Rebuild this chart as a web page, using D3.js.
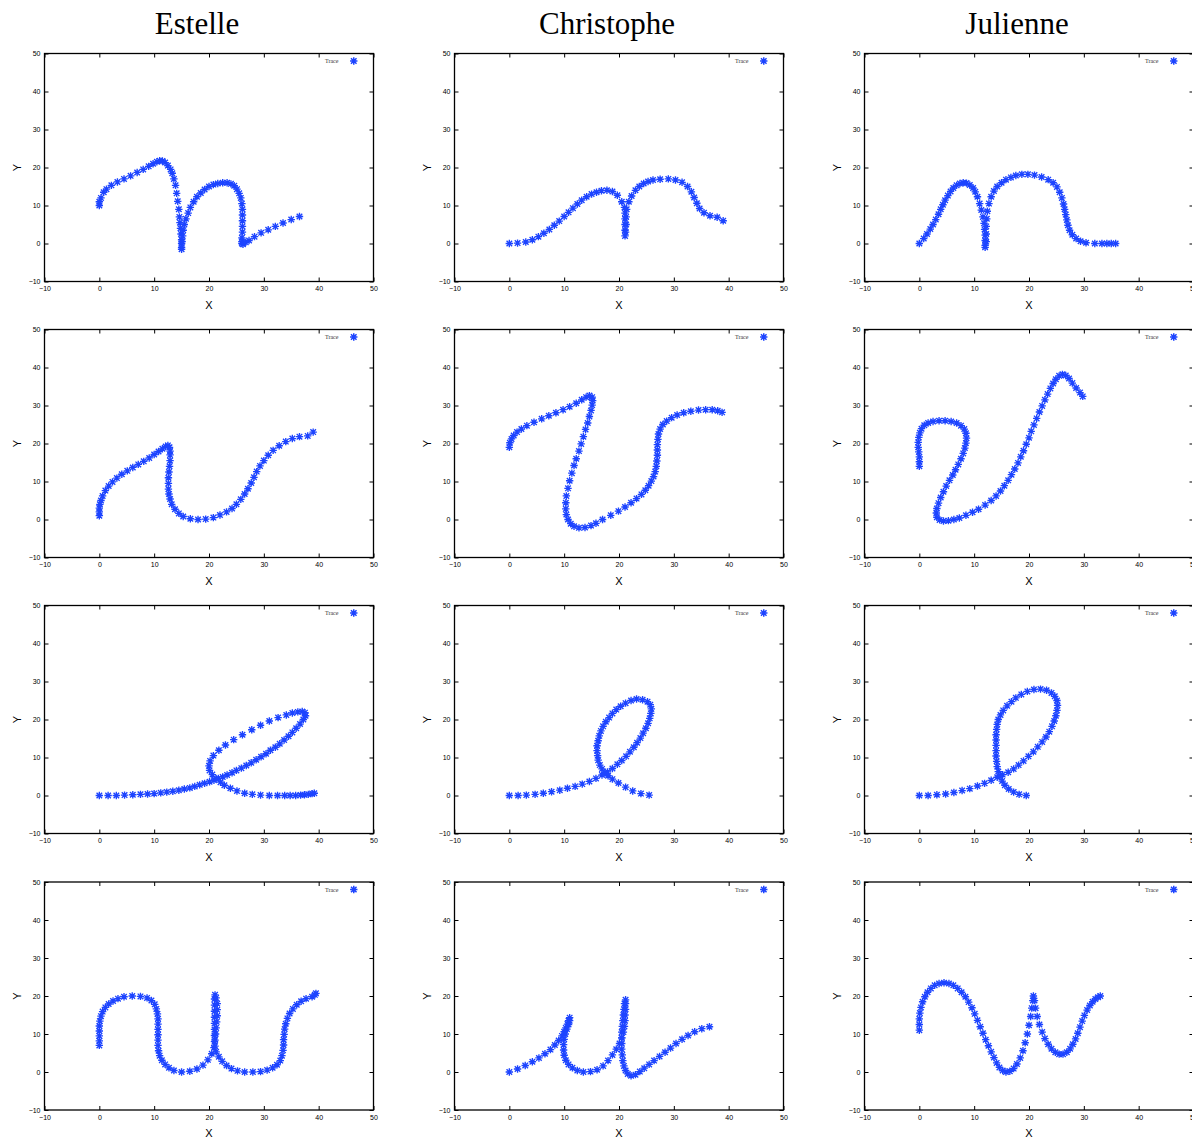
<!DOCTYPE html>
<html>
<head>
<meta charset="utf-8">
<script src="https://cdn.jsdelivr.net/npm/d3@7"></script>
<style>
  html, body { margin: 0; padding: 0; background: #fff; }
  svg { display: block; }
</style>
</head>
<body>
<svg id="chart" width="1192" height="1137"></svg>
<script>
// ---------- DATA ----------
const writers = ["Estelle", "Christophe", "Julienne"];
const letters = ["m", "v", "e", "w"];
const xTicks = [-10, 0, 10, 20, 30, 40, 50];
const yTicks = [-10, 0, 10, 20, 30, 40, 50];
const legendLabel = "Trace";

const estelle_m = [[0,10],[0,11],[0.3,12],[0.8,13.5],[1.3,14.3],[2.2,15.3],[3.3,16.2],[4.5,17],[5.7,17.8],[6.9,18.7],[8,19.5],[9,20.3],[9.8,21],[10.5,21.5],[11,21.8],[11.5,21.7],[12,21.3],[12.5,20.5],[13,19.5],[13.3,18.5],[13.6,17],[13.9,15.3],[14.1,13.2],[14.3,11.1],[14.5,9],[14.6,7],[14.7,5.5],[14.8,4],[14.9,2.5],[15,1],[15,0],[15,-1],[15,-1.5],[15.1,0.5],[15.2,2],[15.3,3.5],[15.5,5],[15.8,6.5],[16.2,8],[16.6,9.5],[17.2,11],[17.8,12.3],[18.5,13.3],[19.2,14.2],[20,15],[20.8,15.5],[21.6,15.8],[22.5,16],[23.3,16],[24,15.7],[24.6,15.2],[25.1,14.3],[25.5,13.2],[25.8,12],[26,10.5],[26.1,9],[26.1,7.5],[26.1,6],[26.1,4.5],[26.1,3],[26,1.5],[26,0.5],[26,0],[26.2,-0.2],[26.7,0.3],[27.3,0.8],[28.3,1.8],[29.5,2.8],[30.8,3.6],[32.1,4.5],[33.5,5.4],[35,6.3],[36.5,7.1]];
const christophe_m = [[0,0],[1.5,0.1],[3,0.4],[4.2,1],[5.3,1.8],[6.3,2.7],[7.3,3.7],[8.2,4.8],[9.1,5.9],[10,7.1],[10.8,8.2],[11.6,9.3],[12.4,10.4],[13.2,11.4],[14.1,12.3],[15,13],[15.9,13.5],[16.8,13.9],[17.8,14],[18.8,13.7],[19.7,12.7],[20.5,11],[21,9.5],[21.1,8],[21.1,6.5],[21.1,5],[21.1,3.5],[21.1,2],[21.2,3],[21.3,5],[21.3,7],[21.4,9],[21.8,11],[22.3,12.5],[23,14],[23.7,15],[24.5,15.8],[25.3,16.3],[26.2,16.7],[27.5,16.9],[29,17],[30.3,16.7],[31.5,16.1],[32.5,15],[33.2,13.6],[33.7,12.1],[34.2,10.6],[34.7,9.2],[35.5,8.1],[36.6,7.3],[37.9,6.9],[39,6]];
const julienne_m = [[0,0],[0.8,1.3],[1.4,2.5],[2,3.8],[2.5,5],[3,6.3],[3.5,7.7],[3.9,9],[4.3,10.2],[4.7,11.4],[5.2,12.6],[5.7,13.7],[6.2,14.6],[6.8,15.3],[7.4,15.8],[8,16],[8.6,15.9],[9.2,15.4],[9.8,14.6],[10.2,13.6],[10.6,12.3],[11,10.5],[11.3,8.8],[11.6,7],[11.8,5.3],[11.9,3.7],[12,2.2],[12,0.8],[12,-0.5],[12,-1],[12.2,0.5],[12.2,2.5],[12.2,4.5],[12.3,6.5],[12.4,8.5],[12.7,10.5],[13.1,12.3],[13.6,13.8],[14.2,15],[15,16],[15.8,16.8],[16.7,17.4],[17.6,17.9],[18.7,18.2],[19.8,18.2],[21,18],[22.3,17.5],[23.5,16.8],[24.4,16],[25.1,14.9],[25.6,13.5],[26,12],[26.3,10.4],[26.5,9],[26.7,7.6],[26.9,6.2],[27.1,4.8],[27.4,3.5],[27.9,2.3],[28.6,1.3],[29.4,0.6],[30.4,0.2],[32,0],[33.3,0],[34.2,0],[35,0],[35.8,0]];

const estelle_v = [[0,1],[0,2],[0,3],[0.1,4],[0.3,5],[0.6,6.2],[1.1,7.6],[1.7,8.8],[2.4,9.9],[3.2,10.9],[4.1,11.9],[5.1,12.8],[6.1,13.7],[7.1,14.5],[8.1,15.3],[9.1,16.2],[10,17.1],[10.8,17.9],[11.5,18.6],[12.1,19.2],[12.5,19.5],[12.8,19],[12.9,18],[12.9,17],[12.9,15.5],[12.8,14],[12.7,12.5],[12.6,11],[12.6,9.5],[12.6,8],[12.7,6.7],[12.9,5.4],[13.2,4],[13.8,2.7],[14.5,1.6],[15.3,0.8],[16.6,0.2],[18,0],[19.4,0.1],[20.8,0.5],[22,1.2],[23.2,2],[24.2,2.9],[25,4],[25.8,5.3],[26.5,6.7],[27.1,8.1],[27.7,9.6],[28.2,11.1],[28.7,12.6],[29.3,14.1],[30,15.5],[30.8,16.9],[31.7,18.2],[32.8,19.4],[34,20.5],[35.2,21.3],[36.5,21.8],[38,22],[39,23]];
const christophe_v = [[0,19],[0.1,20.2],[0.4,21.2],[0.8,22.1],[1.4,23],[2.2,23.8],[3.2,24.7],[4.5,25.6],[5.9,26.5],[7.2,27.3],[8.5,28.1],[9.8,28.9],[11,29.7],[12.2,30.6],[13.2,31.5],[14,32.2],[14.6,32.6],[15.1,32.2],[15.2,31.3],[15.1,30.1],[14.9,28.7],[14.6,27.1],[14.3,25.4],[13.9,23.7],[13.5,21.8],[13.1,19.9],[12.7,18],[12.2,16],[11.8,14.2],[11.4,12.2],[11,10.2],[10.7,8.2],[10.4,6.2],[10.3,4.4],[10.3,2.8],[10.4,1.3],[10.7,0],[11.2,-1.1],[11.8,-1.8],[12.7,-2.2],[13.8,-2.1],[14.9,-1.6],[15.8,-1],[17,0],[18.5,1.1],[19.9,2.2],[21.1,3.3],[22.2,4.4],[23.2,5.5],[24.1,6.6],[24.8,7.7],[25.4,8.9],[25.9,10.1],[26.3,11.3],[26.6,12.6],[26.8,14],[26.9,15.4],[27,16.9],[27,18.3],[27,19.7],[27.1,21.1],[27.2,22.5],[27.5,23.8],[28,25],[28.7,25.9],[29.6,26.8],[30.6,27.5],[31.8,28.1],[33.1,28.5],[34.5,28.8],[35.8,28.9],[37,28.9],[38,28.6],[38.8,28.2]];
const julienne_v = [[0,14],[0,15.2],[0,16.5],[-0.1,17.8],[-0.2,19],[-0.2,20.3],[-0.1,21.6],[0.1,22.8],[0.4,23.9],[0.9,24.8],[1.6,25.4],[2.5,25.8],[3.6,26],[4.7,26],[5.8,25.8],[6.8,25.4],[7.6,24.7],[8.2,23.8],[8.5,22.7],[8.6,21.4],[8.5,20.1],[8.3,18.8],[8,17.4],[7.6,16],[7.1,14.5],[6.6,13.1],[6.1,11.7],[5.5,10.3],[4.9,8.8],[4.4,7.3],[3.9,5.8],[3.5,4.3],[3.2,2.9],[3.1,1.7],[3.2,0.6],[3.7,-0.1],[4.4,-0.4],[5.3,-0.3],[6.3,0],[7.3,0.4],[8.5,1.1],[9.7,1.9],[10.8,2.7],[12,3.8],[13.1,5],[14,6.2],[14.8,7.5],[15.5,8.9],[16.2,10.3],[16.8,11.8],[17.4,13.3],[18,14.9],[18.5,16.5],[19,18.1],[19.5,19.8],[20,21.5],[20.4,23.2],[20.9,24.9],[21.4,26.6],[21.9,28.3],[22.4,29.9],[22.9,31.5],[23.4,33],[23.9,34.5],[24.4,35.8],[24.9,36.9],[25.5,37.8],[26.1,38.2],[26.7,37.9],[27.3,37.1],[27.9,35.9],[28.6,34.6],[29.3,33.4],[29.8,32.4]];

const estelle_e = [[0,0],[1.6,0],[3.1,0],[4.6,0.1],[6.1,0.2],[7.5,0.3],[8.8,0.4],[10,0.5],[11.2,0.7],[12.3,0.9],[13.4,1.1],[14.5,1.4],[15.5,1.7],[16.5,2],[17.4,2.4],[18.3,2.8],[19.2,3.2],[20.1,3.6],[20.9,4],[21.7,4.5],[22.5,4.9],[23.3,5.4],[24.2,6],[25,6.6],[25.9,7.2],[26.8,7.9],[27.7,8.6],[28.6,9.4],[29.5,10.2],[30.4,11],[31.2,11.9],[32.1,12.7],[32.9,13.6],[33.7,14.6],[34.5,15.6],[35.2,16.6],[35.9,17.7],[36.6,18.8],[37.2,20],[37.6,21],[37.5,21.8],[37,22.1],[36.2,22],[35.2,21.7],[34.1,21.2],[32.6,20.5],[31,19.6],[29.4,18.5],[27.8,17.3],[26.1,16],[24.5,14.7],[23,13.3],[21.8,11.9],[20.8,10.5],[20.2,9.1],[20,7.8],[20.1,6.6],[20.6,5.5],[21.3,4.5],[22.1,3.5],[22.8,2.7],[23.9,1.9],[25.1,1.2],[26.5,0.6],[27.9,0.3],[29.4,0.1],[31,0],[32.5,0],[33.8,0],[34.8,0],[35.8,0],[36.7,0.1],[37.4,0.2],[38.1,0.3],[38.8,0.5],[39.2,0.6]];
const christophe_e = [[0,0],[1.6,0],[3.1,0.1],[4.7,0.3],[6.2,0.6],[7.7,1],[9.2,1.4],[10.6,1.9],[12,2.4],[13.3,3],[14.6,3.7],[15.8,4.5],[16.9,5.4],[17.9,6.2],[18.8,7.1],[19.7,8.2],[20.5,9.2],[21.3,10.3],[22,11.5],[22.7,12.7],[23.3,13.9],[23.9,15.1],[24.4,16.4],[24.9,17.7],[25.3,19],[25.6,20.3],[25.8,21.6],[25.9,22.8],[25.7,23.9],[25.2,24.7],[24.3,25.2],[23.2,25.4],[22.2,25],[21.2,24.3],[20.3,23.5],[19.5,22.6],[18.8,21.6],[18.2,20.5],[17.6,19.4],[17.1,18.2],[16.7,17],[16.4,15.7],[16.2,14.4],[16,13.1],[16,11.8],[16.1,10.5],[16.2,9.3],[16.5,8],[16.9,7],[17.4,6],[18,5.2],[18.8,4.3],[19.9,3.3],[21.2,2.2],[22.5,1.2],[24,0.5],[25.5,0.1]];
const julienne_e = [[0,0],[1.6,0],[3.2,0.2],[4.8,0.4],[6.3,0.8],[7.8,1.3],[9.2,1.8],[10.6,2.5],[11.9,3.2],[13.1,4],[14.2,4.8],[15.2,5.5],[16.2,6.1],[17.2,7],[18.1,8],[19,9.1],[19.9,10.3],[20.8,11.5],[21.6,12.8],[22.4,14.1],[23.1,15.4],[23.7,16.8],[24.2,18.2],[24.6,19.6],[24.9,21],[25.1,22.4],[25.2,23.7],[25.1,25],[24.7,26.1],[24.1,27],[23.2,27.7],[22.1,28],[20.9,27.9],[19.7,27.4],[18.6,26.6],[17.6,25.7],[16.8,24.7],[16,23.6],[15.3,22.4],[14.8,21.2],[14.4,20],[14.2,18.7],[14.1,17.4],[14,16],[14,14.6],[14,13.2],[14,11.8],[14,10.4],[14.1,9],[14.2,7.6],[14.4,6.3],[14.7,5],[15.1,3.8],[15.6,2.7],[16.3,1.7],[17.2,0.9],[18.2,0.3],[19.5,0]];

const estelle_w = [[0,7],[0,8.2],[0,9.5],[0,10.8],[0,12.1],[0.1,13.4],[0.3,14.7],[0.6,15.9],[1.1,17],[1.7,17.9],[2.5,18.7],[3.4,19.3],[4.5,19.8],[6,20],[7.5,19.9],[8.7,19.5],[9.5,18.8],[10.1,17.8],[10.4,16.6],[10.6,15.3],[10.7,14],[10.7,12.6],[10.7,11.2],[10.7,9.8],[10.7,8.4],[10.7,7],[10.8,5.6],[11,4.3],[11.4,3.1],[12,2],[12.7,1.1],[13.6,0.4],[15,0],[16.5,0.2],[17.8,0.8],[18.9,1.8],[19.8,3.2],[20.5,4.8],[20.9,6.4],[21,8],[21,9.6],[21,11.2],[21,12.8],[21,14.4],[21,16],[21,17.6],[21,19.2],[21.1,20.3],[21.3,19.5],[21.5,18],[21.5,16.4],[21.5,14.8],[21.4,13.2],[21.3,11.6],[21.2,10],[21.1,8.4],[21.1,6.8],[21.3,5.3],[21.8,4],[22.4,2.8],[23.2,1.7],[24.1,0.9],[25.2,0.3],[26.5,0],[28,0],[29.4,0.1],[30.6,0.5],[31.6,1.1],[32.4,1.9],[33,3],[33.3,4.3],[33.5,5.7],[33.6,7.1],[33.6,8.5],[33.7,9.9],[33.8,11.3],[34,12.7],[34.3,14.1],[34.7,15.4],[35.3,16.6],[36,17.7],[36.8,18.6],[37.7,19.3],[38.8,19.8],[39.3,20.3],[39.5,20.7]];
const christophe_w = [[0,0],[1.5,0.8],[2.9,1.7],[4.2,2.7],[5.4,3.7],[6.5,4.8],[7.5,5.9],[8.3,7.1],[9,8.3],[9.6,9.5],[10,10.6],[10.3,11.6],[10.6,12.6],[10.8,13.5],[11,14.3],[11,13.5],[10.8,12.5],[10.5,11.3],[10.2,10],[10,8.6],[9.9,7.2],[9.9,5.8],[10,4.4],[10.3,3.1],[10.8,2],[11.5,1.1],[12.4,0.4],[13.5,0],[14.8,0.1],[16,0.6],[17.1,1.6],[18,3],[18.8,4.5],[19.5,6],[20.1,7.5],[20.5,9],[20.8,10.5],[21,12],[21.1,13.5],[21.1,15],[21.2,16.5],[21.2,18],[21.2,19],[21,18],[20.9,16.5],[20.8,15],[20.7,13.5],[20.6,12],[20.5,10.5],[20.5,9],[20.5,7.5],[20.5,6],[20.6,4.5],[20.7,3],[20.9,1.6],[21.2,0.4],[21.6,-0.5],[22.2,-1],[23,-0.7],[23.8,0.1],[24.6,1],[25.5,2],[26.4,3],[27.4,4.1],[28.4,5.2],[29.4,6.3],[30.4,7.5],[31.5,8.6],[32.6,9.6],[33.8,10.6],[35.1,11.4],[36.5,11.9]];
const julienne_w = [[0,11],[0,12.5],[0,14],[0.1,15.5],[0.3,17],[0.6,18.5],[1,19.8],[1.5,21],[2.1,22],[2.8,22.8],[3.6,23.3],[4.5,23.5],[5.4,23.3],[6.2,22.8],[7,22],[7.7,21],[8.4,19.8],[9,18.4],[9.6,16.9],[10.1,15.3],[10.6,13.6],[11.1,11.9],[11.6,10.2],[12.1,8.5],[12.6,6.9],[13.1,5.3],[13.6,3.8],[14.1,2.4],[14.6,1.2],[15.2,0.4],[15.8,0],[16.5,0.2],[17.2,0.9],[17.8,2.1],[18.4,3.7],[18.9,5.6],[19.3,7.7],[19.7,10],[20,12.3],[20.3,14.6],[20.5,16.8],[20.7,18.8],[20.8,20],[21,18.8],[21.2,16.8],[21.5,14.6],[21.9,12.5],[22.4,10.5],[22.9,8.8],[23.5,7.3],[24.1,6.1],[24.8,5.2],[25.5,4.7],[26.2,4.7],[26.9,5.2],[27.5,6.1],[28,7.3],[28.5,8.7],[28.9,10.2],[29.3,11.8],[29.7,13.4],[30.1,14.9],[30.6,16.3],[31.1,17.5],[31.6,18.5],[32.1,19.2],[32.6,19.7],[33,20]];

const traces = [
  [estelle_m, christophe_m, julienne_m],
  [estelle_v, christophe_v, julienne_v],
  [estelle_e, christophe_e, julienne_e],
  [estelle_w, christophe_w, julienne_w]
];

// ---------- LAYOUT ----------
const colLeft = [44.5, 454.5, 864.5];
const rowTop = [53.5, 329.5, 605.5, 882];
const plotW = 329, plotH = 228;
const titleX = [197, 607, 1017];
const markerColor = "#1d44ff";
const starR = 3.7;
const starPath = `M${-starR},0L${starR},0M0,${-starR}L0,${starR}` +
  `M${-starR*0.75},${-starR*0.75}L${starR*0.75},${starR*0.75}` +
  `M${-starR*0.75},${starR*0.75}L${starR*0.75},${-starR*0.75}`;

const svg = d3.select("#chart");

// Column titles
svg.selectAll("text.title").data(writers).join("text")
  .attr("class", "title")
  .attr("x", (d, i) => titleX[i])
  .attr("y", 34)
  .attr("text-anchor", "middle")
  .attr("font-family", "'Liberation Serif', 'DejaVu Serif', serif")
  .attr("font-size", 31)
  .attr("fill", "#000")
  .text(d => d);

const x = d3.scaleLinear().domain([-10, 50]).range([0, plotW]);
const y = d3.scaleLinear().domain([-10, 50]).range([plotH, 0]);

traces.forEach((row, ri) => {
  row.forEach((pts, ci) => {
    const g = svg.append("g").attr("transform", `translate(${colLeft[ci]},${rowTop[ri]})`);

    // axes with inward ticks
    const tickFont = "'Liberation Sans', Arial, sans-serif";
    const ax = g.append("g").attr("transform", `translate(0,${plotH})`)
      .call(d3.axisBottom(x).tickValues(xTicks).tickSizeInner(-4).tickSizeOuter(0).tickPadding(5));
    const ay = g.append("g")
      .call(d3.axisLeft(y).tickValues(yTicks).tickSizeInner(-4).tickSizeOuter(0).tickPadding(4));
    const at = g.append("g")
      .call(d3.axisTop(x).tickValues(xTicks).tickSizeInner(-4).tickSizeOuter(0).tickFormat(""));
    const ar = g.append("g").attr("transform", `translate(${plotW},0)`)
      .call(d3.axisRight(y).tickValues(yTicks).tickSizeInner(-4).tickSizeOuter(0).tickFormat(""));
    [ax, ay, at, ar].forEach(a => {
      a.select(".domain").remove();
      a.selectAll("line").attr("stroke", "#000").attr("stroke-width", 1);
      a.selectAll("text").attr("font-family", tickFont).attr("font-size", 7).attr("fill", "#000");
    });

    // frame
    g.append("rect").attr("x", 0).attr("y", 0).attr("width", plotW).attr("height", plotH)
      .attr("fill", "none").attr("stroke", "#000").attr("stroke-width", 1.3);

    // axis labels
    g.append("text").attr("x", plotW / 2).attr("y", plotH + 27)
      .attr("text-anchor", "middle").attr("font-family", tickFont).attr("font-size", 11)
      .text("X");
    g.append("text").attr("transform", `translate(-24,${plotH / 2}) rotate(-90)`)
      .attr("text-anchor", "middle").attr("font-family", tickFont).attr("font-size", 11)
      .text("Y");

    // points
    const clipId = `clip-${ri}-${ci}`;
    g.append("clipPath").attr("id", clipId).append("rect")
      .attr("width", plotW).attr("height", plotH);
    g.append("g").attr("clip-path", `url(#${clipId})`)
      .selectAll("path.pt").data(pts).join("path")
      .attr("class", "pt")
      .attr("transform", d => `translate(${x(d[0])},${y(d[1])})`)
      .attr("d", starPath)
      .attr("stroke", markerColor).attr("stroke-width", 1.35).attr("fill", "none");

    // legend
    g.append("text").attr("x", x(43.6)).attr("y", 9.5)
      .attr("text-anchor", "end").attr("font-family", "'Liberation Serif', serif")
      .attr("font-size", 6).attr("fill", "#333").text(legendLabel);
    g.append("path").attr("transform", `translate(${x(46.4)},7.5)`)
      .attr("d", starPath).attr("stroke", markerColor).attr("stroke-width", 1.5).attr("fill", "none");
  });
});
</script>
</body>
</html>
